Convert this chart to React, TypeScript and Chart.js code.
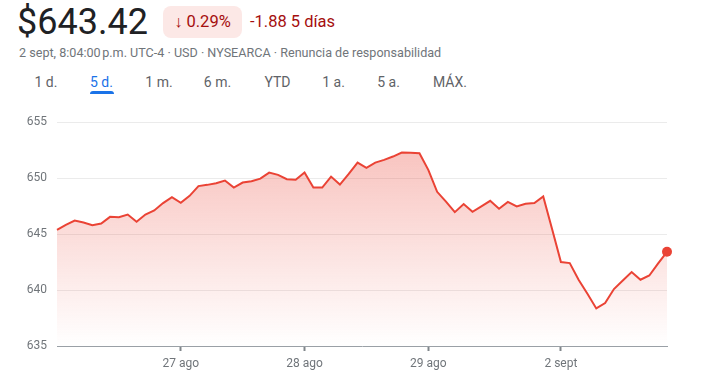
import React, { useEffect, useRef } from "react";
import { Chart, registerables } from "chart.js";

Chart.register(...registerables);

// ---- data ----
const prices: number[] = [
  645.38, 645.83, 646.21, 646.04, 645.80, 645.95, 646.54, 646.51, 646.75, 646.10,
  646.75, 647.11, 647.77, 648.30, 647.80, 648.42, 649.29, 649.40, 649.55, 649.79,
  649.16, 649.61, 649.73, 649.96, 650.50, 650.29, 649.91, 649.85, 650.50, 649.16,
  649.16, 650.14, 649.43, 650.38, 651.39, 650.92, 651.39, 651.63, 651.93, 652.29,
  652.26, 652.23, 650.74, 648.78, 647.91, 646.96, 647.68, 646.99, 647.47, 647.97,
  647.26, 647.88, 647.47, 647.71, 647.77, 648.36, 645.45, 642.50, 642.41, 640.92,
  639.67, 638.36, 638.84, 640.09, 640.86, 641.61, 640.92, 641.30, 642.38, 643.42,
];
const dayTickIndices: number[] = [14, 28, 42, 57];
const dayTickLabels: string[] = ["27 ago", "28 ago", "29 ago", "2 sept"];
const yMin = 635;
const yMax = 655;
const yStep = 5;

const tabs: string[] = ["1 d.", "5 d.", "1 m.", "6 m.", "YTD", "1 a.", "5 a.", "MÁX."];
const tabCenters: number[] = [46, 101.5, 159, 217.5, 277.5, 333.5, 388.5, 450];
const activeTab = 1;

const priceText = "$643.42";
const changePct = "0.29%";
const changeAbs = "-1.88";
const periodText = "5 días";
const subtitle = "2 sept, 8:04:00\u202Fp.m. UTC-4 · USD · NYSEARCA · Renuncia de responsabilidad";

const RED = "#ea4335";
const FONT = "Roboto, 'Noto Sans', Arial, sans-serif";

export default function App() {
  const canvasRef = useRef<HTMLCanvasElement | null>(null);

  useEffect(() => {
    const canvas = canvasRef.current;
    if (!canvas) return;
    const labels = prices.map((_, i) => {
      const k = dayTickIndices.indexOf(i);
      return k >= 0 ? dayTickLabels[k] : "";
    });
    const chart = new Chart(canvas, {
      type: "line",
      data: {
        labels,
        datasets: [
          {
            data: prices,
            borderColor: RED,
            borderWidth: 2,
            tension: 0,
            fill: "start",
            clip: false as any,
            backgroundColor: (ctx: any) => {
              const ch = ctx.chart;
              const area = ch.chartArea;
              if (!area) return "rgba(234,67,53,0.2)";
              const g = ch.ctx.createLinearGradient(0, area.top, 0, area.bottom);
              g.addColorStop(0, "rgba(234,67,53,0.36)");
              g.addColorStop(1, "rgba(234,67,53,0.0)");
              return g;
            },
            pointRadius: (ctx: any) => (ctx.dataIndex === prices.length - 1 ? 5 : 0),
            pointBackgroundColor: RED,
            pointBorderWidth: 0,
            pointHoverRadius: 0,
          },
        ],
      },
      options: {
        animation: false,
        responsive: false,
        devicePixelRatio: 1,
        layout: { padding: { top: 7, right: 37, left: 0, bottom: 0 } },
        plugins: { legend: { display: false }, tooltip: { enabled: false } },
        scales: {
          x: {
            type: "category",
            grid: {
              drawOnChartArea: false,
              drawTicks: true,
              tickLength: 5,
              tickWidth: 2,
              color: (ctx: any) =>
                dayTickIndices.includes(ctx.index) ? "#80868b" : "rgba(0,0,0,0)",
            },
            border: { color: "#9aa0a6", width: 1 },
            ticks: {
              autoSkip: false,
              maxRotation: 0,
              padding: 6,
              color: "#70757a",
              font: { family: FONT, size: 12 },
              callback: (_v: any, i: number) => labels[i],
            },
            afterFit: (s: any) => {
              s.height = 43;
            },
          },
          y: {
            min: yMin,
            max: yMax,
            ticks: {
              stepSize: yStep,
              padding: 10,
              color: "#70757a",
              font: { family: FONT, size: 12 },
            },
            grid: {
              drawTicks: false,
              color: (ctx: any) =>
                ctx.tick && ctx.tick.value === yMin ? "rgba(0,0,0,0)" : "#ebebeb",
            },
            border: { display: false },
            afterFit: (s: any) => {
              s.width = 57;
            },
          },
        },
      },
    } as any);
    return () => chart.destroy();
  }, []);

  return (
    <div
      style={{
        position: "fixed",
        left: 0,
        top: 0,
        width: 704,
        height: 389,
        background: "#fff",
        fontFamily: FONT,
        overflow: "hidden",
      }}
    >
      <div
        style={{
          position: "absolute",
          left: 17,
          top: 0,
          height: 44,
          lineHeight: "44px",
          fontSize: 36,
          color: "#202124",
        }}
      >
        {priceText}
      </div>
      <div
        style={{
          position: "absolute",
          left: 163,
          top: 6,
          width: 79,
          height: 32,
          borderRadius: 8,
          background: "#fce8e6",
          color: "#a50e0e",
          fontSize: 16.5,
          fontWeight: 400,
          lineHeight: "32px",
          textAlign: "center",
          whiteSpace: "nowrap",
        }}
      >
        <span style={{ marginRight: 4 }}>↓</span>
        {changePct}
      </div>
      <div
        style={{
          position: "absolute",
          left: 250,
          top: 6,
          height: 32,
          lineHeight: "32px",
          fontSize: 16.5,
          fontWeight: 400,
          color: "#a50e0e",
          whiteSpace: "nowrap",
        }}
      >
        {changeAbs} {periodText}
      </div>
      <div
        style={{
          position: "absolute",
          left: 19,
          top: 45,
          height: 16,
          lineHeight: "16px",
          fontSize: 12.6,
          color: "#70757a",
          whiteSpace: "nowrap",
        }}
      >
        {subtitle}
      </div>
      {tabs.map((t, i) => (
        <div
          key={t}
          style={{
            position: "absolute",
            left: tabCenters[i],
            top: 73,
            transform: "translateX(-50%)",
            height: 18,
            lineHeight: "18px",
            fontSize: 14,
            fontWeight: 400,
            color: i === activeTab ? "#1a73e8" : "#5f6368",
            whiteSpace: "nowrap",
          }}
        >
          {t}
        </div>
      ))}
      <div
        style={{
          position: "absolute",
          left: 90,
          top: 90.5,
          width: 24,
          height: 3,
          borderRadius: "3px 3px 0 0",
          background: "#1a73e8",
        }}
      />
      <canvas
        ref={canvasRef}
        width={704}
        height={284}
        style={{ position: "absolute", left: 0, top: 105, width: 704, height: 284 }}
      />
    </div>
  );
}
